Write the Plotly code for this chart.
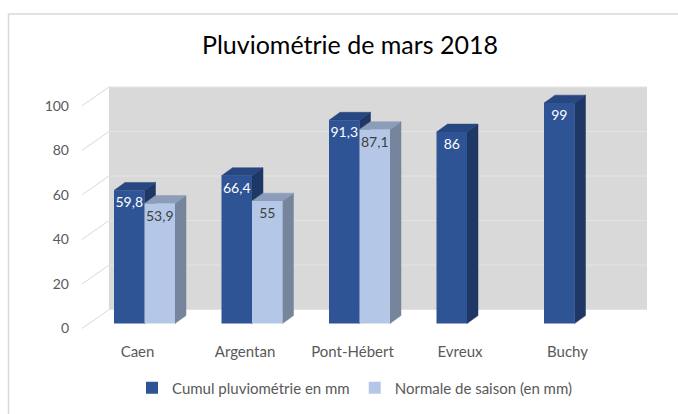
import plotly.graph_objects as go

# ---------------- data ----------------
categories = ["Caen", "Argentan", "Pont-Hébert", "Evreux", "Buchy"]
cumul = [59.8, 66.4, 91.3, 86, 99]
normale = [53.9, 55, 87.1, None, None]
y_ticks = [0, 20, 40, 60, 80, 100]
series_names = ["Cumul pluviométrie en mm", "Normale de saison (en mm)"]
title_text = "Pluviométrie de mars 2018"

# ---------------- geometry / style ----------------
W, H = 678, 414
L, R, T, B = 80, 23, 79, 78
PXX = 107.5          # pixels per category
PXY = 2.24           # pixels per mm
ZERO_PX = 325        # pixel row of value 0 (bar bottoms)
X0 = -0.6
x_range = [X0, X0 + (W - L - R) / PXX]
y_range = [-((H - B) - ZERO_PX) / PXY, (ZERO_PX - T) / PXY]

group_w = 61 / PXX
bw = group_w / 2
dx, dy = 11 / PXX, 8 / PXY              # bar depth
wdx, wdy = (109 - 80) / PXX + X0, 14 / PXY  # back wall left x / lift
wall_right = (647 - 80) / PXX + X0
label_drop = 5 / PXY                    # front-plane labels are a bit lower
side_x0 = (82 - 80) / PXX + X0

FONT = "Lato"
GREY_TXT = "#595959"

dark = dict(front="#2E5495", side="#1F3764", top="#26477F")
light = dict(front="#B4C7E7", side="#76849C", top="#8C9DB9")


def faces(values, left_offset):
    sx, sy, tx, ty = [], [], [], []
    for i, v in enumerate(values):
        if v is None:
            continue
        x0 = i + left_offset
        x1 = x0 + bw
        sx += [x1, x1 + dx, x1 + dx, x1, x1, None]
        sy += [0, dy, v + dy, v, 0, None]
        tx += [x0, x0 + dx, x1 + dx, x1, x0, None]
        ty += [v, v + dy, v + dy, v, v, None]
    return sx, sy, tx, ty


fig = go.Figure()

for vals, off, col in [(cumul, -bw, dark), (normale, 0.0, light)]:
    sx, sy, tx, ty = faces(vals, off)
    fig.add_trace(go.Scatter(x=sx, y=sy, fill="toself", fillcolor=col["side"], mode="lines",
                             line=dict(color=col["side"], width=0.5), showlegend=False,
                             hoverinfo="skip", xaxis="x", yaxis="y"))
    fig.add_trace(go.Scatter(x=tx, y=ty, fill="toself", fillcolor=col["top"], mode="lines",
                             line=dict(color=col["top"], width=0.5), showlegend=False,
                             hoverinfo="skip", xaxis="x", yaxis="y"))

xs = list(range(len(categories)))
fig.add_trace(go.Bar(x=xs, y=cumul, name=series_names[0], marker=dict(color=dark["front"], line=dict(width=0)),
                     texttemplate="%{y}", textposition="inside", insidetextanchor="end",
                     constraintext="none", textangle=0,
                     textfont=dict(family=FONT, size=14, color="white"), xaxis="x2", yaxis="y2"))
fig.add_trace(go.Bar(x=xs, y=normale, name=series_names[1], marker=dict(color=light["front"], line=dict(width=0)),
                     texttemplate="%{y}", textposition="inside", insidetextanchor="end",
                     constraintext="none", textangle=0,
                     textfont=dict(family=FONT, size=14, color="#404040"), xaxis="x2", yaxis="y2"))

shapes = []
# back wall
shapes.append(dict(type="rect", xref="x", yref="y", x0=wdx, x1=wall_right, y0=wdy, y1=100 + wdy,
                   fillcolor="#D9D9D9", line=dict(width=0), layer="below"))
for v in y_ticks[1:]:
    shapes.append(dict(type="line", xref="x", yref="y", x0=wdx, x1=wall_right, y0=v + wdy, y1=v + wdy,
                       line=dict(color="#E4E4E4", width=1), layer="below"))

# side wall diagonal lines
for v in y_ticks:
    shapes.append(dict(type="line", xref="x", yref="y", x0=side_x0, x1=wdx, y0=v - label_drop, y1=v + wdy,
                       line=dict(color="#D9D9D9", width=1), layer="below"))
# outer frame
pw, ph = W - L - R, H - T - B
shapes.append(dict(type="rect", xref="paper", yref="paper",
                   x0=(8.5 - L) / pw, x1=1.3, y0=-0.6, y1=((H - B) - 13.5) / ph,
                   line=dict(color="#D9D9D9", width=1.5), fillcolor="rgba(0,0,0,0)"))

fig.update_layout(
    width=W, height=H,
    margin=dict(l=L, r=R, t=T, b=B),
    paper_bgcolor="white", plot_bgcolor="white",
    separators=", ",
    barmode="group", bargap=1 - group_w, bargroupgap=0,
    font=dict(family=FONT, color=GREY_TXT),
    title=dict(text=title_text, font=dict(family=FONT, size=25, color="#000000"),
               x=350 / W, xref="container", xanchor="center",
               y=1 - 45 / H, yref="container", yanchor="middle"),
    xaxis=dict(range=x_range, tickvals=xs, ticktext=categories, showgrid=False, zeroline=False,
               showline=False, ticks="", tickfont=dict(family=FONT, size=15, color=GREY_TXT),
               ticklabelshift=-7, ticklabelstandoff=6),
    yaxis=dict(range=y_range, showgrid=False, zeroline=False, showline=False, showticklabels=False,
               ticks=""),
    xaxis2=dict(range=x_range, overlaying="x", visible=False),
    yaxis2=dict(range=y_range, overlaying="y", visible=False),
    yaxis3=dict(range=[y_range[0] + label_drop, y_range[1] + label_drop], overlaying="y", side="left",
                anchor="x", tickvals=y_ticks, showgrid=False, zeroline=False, showline=False, ticks="",
                tickfont=dict(family=FONT, size=14, color=GREY_TXT), ticklabelstandoff=10),
    legend=dict(orientation="h", xref="container", x=355 / W, xanchor="center",
                yref="container", y=1 - 388 / H, yanchor="middle",
                font=dict(family=FONT, size=15, color=GREY_TXT), traceorder="normal"),
    shapes=shapes,
    showlegend=True,
)
# a dummy trace so yaxis3 is drawn
fig.add_trace(go.Scatter(x=[None], y=[None], xaxis="x", yaxis="y3", showlegend=False, hoverinfo="skip"))

fig.write_html("out.html")
